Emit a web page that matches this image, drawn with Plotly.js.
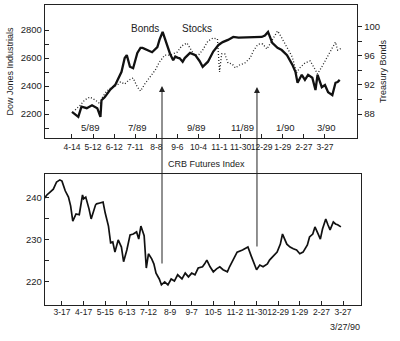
<!DOCTYPE html>
<html>
<head>
<meta charset="utf-8">
<script src="https://cdn.plot.ly/plotly-3.0.1.min.js"></script>
<style>html,body{margin:0;padding:0;background:#fff;}#chart{width:400px;height:341px;}</style>
</head>
<body>
<div id="chart"></div>
<script>
// ---- data (x = trading-day index from first labelled tick) ----
const topTickLabels = ["4-14","5-12","6-12","7-11","8-8","9-6","10-4","11-1","11-30","12-29","1-29","2-27","3-27"];
const bottomTickLabels = ["3-17","4-17","5-15","6-13","7-12","8-9","9-7","10-5","11-2","11-30","12-29","1-29","2-27","3-27"];
const monthLabels = ["5/89","7/89","9/89","11/89","1/90","3/90"];

const bondDays = [0,6,9,14,19,24,27,28,31,36,41,44,47,50,52,55,58,62,65,67,71,76,81,83,86,90,93,96,98,101,102,105,107,112,117,121,124,129,134,139,143,148,153,158,162,167,172,176,180,183,186,190,195,199,204,209,212,214,218,221,224,228,231,233,237,240,243,247,250,252,254];
const bonds = [88.3,87.6,89.0,88.8,89.2,88.8,87.6,89.9,90.3,91.3,92.0,92.9,93.8,95.7,96.1,94.5,94.3,96.4,97.1,97.1,96.8,96.5,97.2,98.2,99.3,97.4,96.3,95.4,95.9,95.7,95.7,95.2,95.7,96.4,96.1,95.3,94.5,95.2,96.6,97.5,97.9,98.2,98.6,98.5,98.5,98.5,98.6,98.5,98.6,98.8,99.3,97.8,97.1,96.8,96.1,94.8,93.8,92.3,93.4,92.7,93.4,93.0,91.3,93.4,91.7,92.0,91.0,90.6,92.3,92.4,92.7];

const stockDays = [3,8,12,17,22,27,29,33,38,43,46,50,54,58,62,65,69,74,79,83,88,93,100,104,109,112,116,120,124,129,134,138,139,140,142,145,148,152,155,159,164,169,172,176,178,181,185,190,195,197,200,204,209,213,216,221,226,231,233,238,242,247,250,252,256];
const stocks = [2229,2264,2300,2321,2300,2271,2321,2364,2393,2407,2429,2414,2443,2457,2393,2364,2414,2464,2514,2571,2621,2621,2643,2686,2707,2671,2621,2621,2657,2721,2743,2736,2614,2500,2629,2629,2564,2557,2529,2550,2564,2600,2650,2693,2700,2700,2664,2729,2793,2771,2729,2679,2607,2493,2529,2564,2579,2514,2486,2550,2607,2671,2714,2657,2671];

const crbDays = [-16,-14,-11,-8,-5,-2,0,3,6,8,10,13,16,19,20,22,25,27,31,32,35,38,40,42,43,45,47,49,52,55,57,60,63,66,69,71,73,76,78,80,83,85,87,90,92,95,98,101,104,107,111,114,117,120,123,126,130,132,134,137,140,143,146,149,153,155,158,162,167,169,172,175,178,180,183,186,190,192,195,199,202,204,208,211,214,217,220,223,227,229,232,234,237,239,241,244,246,248,251,253,255,258];
const crb = [240.0,240.7,241.4,242.1,243.8,244.3,244.0,241.7,240.2,238.1,234.5,236.2,236.0,240.7,239.8,240.2,237.4,235.0,238.3,238.6,238.8,239.0,236.4,234.0,233.3,229.3,229.5,227.1,230.0,228.3,224.8,227.6,231.2,231.4,231.9,230.2,233.3,231.0,223.3,226.7,225.5,224.3,222.1,220.7,219.3,220.0,219.3,220.7,220.2,221.7,220.7,222.1,221.2,222.1,221.7,223.3,223.6,224.3,225.2,223.6,222.4,223.1,223.6,222.9,222.4,223.6,225.2,227.1,227.6,227.9,228.3,226.2,224.3,222.9,224.0,223.6,224.3,225.2,226.0,227.1,229.0,231.4,229.0,228.3,227.9,227.6,226.7,227.1,228.8,230.7,231.4,233.1,231.4,230.2,232.6,235.0,233.6,232.4,234.3,233.8,233.6,233.1];

const dowTicks = [2100,2200,2300,2400,2500,2600,2700,2800];
const bondTicks = [88,90,92,94,96,98,100];
const crbTicks = [220,225,230,235,240];

// ---- styling ----
const FONT = "'Liberation Sans', Arial, sans-serif";
const INK = '#222';
const W = 400, H = 341;
const px = v => v / W;           // horizontal pixel -> paper
const py = v => 1 - v / H;       // vertical pixel -> paper

const axisBase = {
  showgrid: false, zeroline: false, showline: true, linecolor: INK, linewidth: 1.3,
  ticks: 'inside', ticklen: 4, tickwidth: 1, tickcolor: INK, tickangle: 0,
  tickfont: {family: FONT, size: 8.5, color: INK}, automargin: false, fixedrange: true
};

const traces = [
  {x: stockDays, y: stocks, name: 'Stocks', type: 'scatter', mode: 'lines',
   line: {color: INK, width: 1.3, dash: '1px,2px'}, xaxis: 'x', yaxis: 'y'},
  {x: bondDays, y: bonds, name: 'Bonds', type: 'scatter', mode: 'lines',
   line: {color: '#111', width: 2.3}, xaxis: 'x', yaxis: 'y2'},
  {x: crbDays, y: crb, name: 'CRB Futures Index', type: 'scatter', mode: 'lines',
   line: {color: '#111', width: 1.7}, xaxis: 'x2', yaxis: 'y3'}
];

const topTickVals = topTickLabels.map((_, i) => i * 20);
const botTickVals = bottomTickLabels.map((_, i) => i * 20);
const monthX = [18.0, 61.7, 118.6, 162.2, 202.1, 241.0];

const annotations = [];
const txt = (o, size) => Object.assign({showarrow: false, xanchor: 'center', yanchor: 'middle',
  font: {family: FONT, size: size, color: INK}}, o);
monthLabels.forEach((t, i) => annotations.push(txt({
  text: t, xref: 'x', yref: 'paper', x: monthX[i], y: py(127)}, 9.5)));
annotations.push(txt({text: 'Bonds', xref: 'x', yref: 'paper', x: 69.3, y: py(28)}, 10));
annotations.push(txt({text: 'Stocks', xref: 'x', yref: 'paper', x: 118.6, y: py(28)}, 10));
annotations.push(txt({text: 'CRB Futures Index', xref: 'paper', yref: 'paper', x: px(166), y: py(164),
  xanchor: 'left'}, 9));
annotations.push(txt({text: '3/27/90', xref: 'paper', yref: 'paper', x: px(345), y: py(327)}, 9));
// arrows linking CRB turns to bond turns
annotations.push({text: '', xref: 'x', yref: 'paper', x: 85.4, y: py(86), ax: 0, ay: 179,
  showarrow: true, arrowhead: 2, arrowsize: 1.2, arrowwidth: 1, arrowcolor: INK});
annotations.push({text: '', xref: 'x', yref: 'paper', x: 175.5, y: py(87), ax: 0, ay: 161,
  showarrow: true, arrowhead: 2, arrowsize: 1.2, arrowwidth: 1, arrowcolor: INK});

const layout = {
  width: W, height: H, margin: {l: 0, r: 0, t: 0, b: 0},
  paper_bgcolor: '#fff', plot_bgcolor: '#fff', showlegend: false,
  font: {family: FONT, color: INK},
  xaxis: Object.assign({}, axisBase, {
    domain: [px(45), px(357)], anchor: 'y', range: [-25.6, 270.4], mirror: true,
    tickmode: 'array', tickvals: topTickVals, ticktext: topTickLabels, ticklabelstandoff: 0
  }),
  yaxis: Object.assign({}, axisBase, {
    domain: [py(138), py(5)], anchor: 'x', range: [2028.6, 2978.6], mirror: true,
    tickmode: 'array', tickvals: dowTicks,
    ticktext: dowTicks.map(v => v % 200 === 0 ? String(v) : ''),
    tickfont: {family: FONT, size: 9.5, color: INK},
    title: {text: 'Dow Jones Industrials', font: {family: FONT, size: 9, color: INK}, standoff: 5}
  }),
  yaxis2: Object.assign({}, axisBase, {
    overlaying: 'y', side: 'right', anchor: 'x', range: [84.7, 103.0], ticks: 'outside',
    tickmode: 'array', tickvals: bondTicks,
    ticktext: bondTicks.map(v => v % 4 === 0 ? String(v) : ''),
    tickfont: {family: FONT, size: 9.5, color: INK},
    title: {text: 'Treasury Bonds', font: {family: FONT, size: 9, color: INK}, standoff: 0}
  }),
  xaxis2: Object.assign({}, axisBase, {
    domain: [px(45), px(361)], anchor: 'y3', range: [-15.7, 276.6], mirror: true,
    tickmode: 'array', tickvals: botTickVals, ticktext: bottomTickLabels, ticklabelstandoff: -2
  }),
  yaxis3: Object.assign({}, axisBase, {
    domain: [py(305), py(174)], anchor: 'x2', range: [214.5, 245.7], mirror: true,
    tickmode: 'array', tickvals: crbTicks,
    tickfont: {family: FONT, size: 9.5, color: INK},
    ticktext: crbTicks.map(v => v % 10 === 0 ? String(v) : '')
  }),
  annotations: annotations
};

Plotly.newPlot('chart', traces, layout, {staticPlot: true, displayModeBar: false});
</script>
</body>
</html>
